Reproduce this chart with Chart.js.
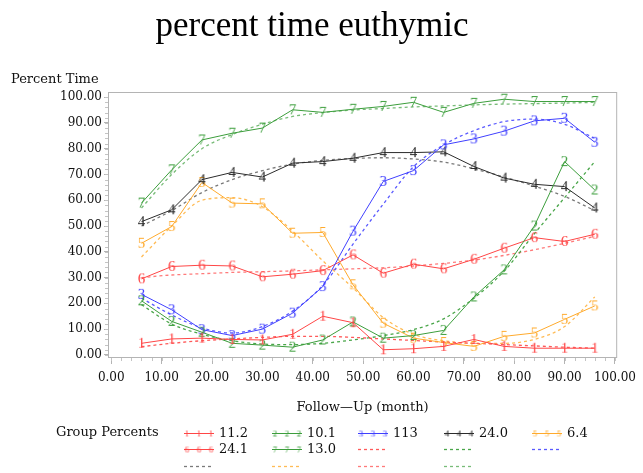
<!DOCTYPE html>
<html lang="en">
<head>
  <meta charset="UTF-8">
  <title>percent time euthymic</title>
  <style>
    body { margin: 0; background: #fff; }
    #wrap { width: 643px; height: 473px; }
  </style>
</head>
<body>
  <div id="wrap"><canvas id="chart" width="643" height="473"></canvas></div>

  <script src="https://cdn.jsdelivr.net/npm/chart.js"></script>
  <script>
    // follow-up visits (months) and axis ticks
    const months = [6, 12, 18, 24, 30, 36, 42, 48, 54, 60, 66, 72, 78, 84, 90, 96];
    const xTicks = [0, 10, 20, 30, 40, 50, 60, 70, 80, 90, 100];
    const yTicks = [0, 10, 20, 30, 40, 50, 60, 70, 80, 90, 100];

    // group percents and plot symbols
    const groupLabels = ['11.2', '10.1', '113', '24.0', '6.4', '24.1', '13.0'];
    const groupGlyphs = ['1', '2', '3', '4', '5', '6', '7'];

    // observed percent time per group
    const obs1 = [4.5, 6.2, 6.5, 6.0, 5.8, 8.0, 15.0, 12.5, 2.0, 2.4, 3.3, 6.0, 3.3, 2.6, 2.6, 2.6];
    const obs2 = [21.0, 13.0, 8.8, 4.5, 3.8, 3.0, 5.8, 12.8, 6.5, 7.5, 9.5, 22.5, 33.0, 50.0, 75.0, 64.0];
    const obs3 = [23.5, 17.5, 9.8, 7.5, 10.0, 16.2, 26.5, 48.0, 67.3, 71.5, 81.5, 83.8, 86.8, 90.8, 91.8, 82.5];
    const obs4 = [51.7, 56.3, 68.0, 70.8, 69.0, 74.4, 75.0, 76.3, 78.5, 78.5, 78.8, 73.1, 68.6, 66.2, 65.3, 57.0];
    const obs5 = [43.3, 49.8, 66.9, 58.9, 58.6, 47.2, 47.5, 27.2, 12.3, 6.5, 4.8, 3.3, 7.2, 8.5, 13.8, 19.0];
    const obs6 = [29.5, 34.3, 34.8, 34.5, 30.3, 31.3, 32.7, 38.8, 31.7, 35.2, 33.4, 37.1, 41.4, 45.5, 44.0, 46.8];
    const obs7 = [58.9, 71.8, 83.4, 86.0, 88.0, 95.1, 94.1, 95.3, 96.4, 98.0, 94.1, 97.6, 99.2, 98.3, 98.3, 98.3];

    // fitted trajectories per group
    const fit1 = [3.2, 4.5, 5.5, 6.2, 6.8, 7.2, 7.2, 6.8, 6.2, 5.6, 5.0, 4.5, 4.0, 3.5, 3.0, 2.6];
    const fit2 = [19.5, 12.0, 8.0, 5.5, 4.2, 4.0, 4.5, 5.8, 7.5, 9.8, 14.0, 22.0, 32.5, 47.0, 61.0, 75.0];
    const fit3 = [22.0, 15.5, 10.5, 8.5, 11.0, 17.0, 27.0, 43.0, 58.5, 73.0, 81.5, 87.0, 90.5, 91.5, 89.5, 84.0];
    const fit4 = [50.0, 56.0, 63.0, 68.0, 71.5, 74.0, 75.5, 76.2, 76.5, 76.0, 74.8, 72.2, 69.0, 65.5, 61.5, 56.0];
    const fit5 = [38.0, 50.0, 60.0, 61.0, 57.5, 48.0, 36.5, 26.0, 14.5, 8.0, 5.5, 4.5, 4.5, 6.0, 11.0, 22.5];
    const fit6 = [30.0, 31.0, 31.5, 32.0, 32.3, 32.6, 33.0, 33.4, 33.8, 34.5, 35.5, 36.8, 38.6, 40.8, 43.3, 46.0];
    const fit7 = [57.0, 70.0, 80.0, 85.5, 89.5, 92.5, 94.0, 95.0, 95.6, 96.2, 96.6, 97.0, 97.3, 97.5, 97.7, 98.0];

    const observed = [obs1, obs2, obs3, obs4, obs5, obs6, obs7];
    const fitted = [fit1, fit2, fit3, fit4, fit5, fit6, fit7];

    const lineColors = ['#ff4646', '#3c9e3c', '#4040ff', '#2c2c2c', '#ffaa2c', '#ff4646', '#3c9e3c'];
    const fitColors  = ['#ff5a5a', '#4aa64a', '#5a5aff', '#7a7a7a', '#ffbb55', '#ff7a7a', '#78bc78'];

    // digit symbol drawn on a small canvas so it can be used as a pointStyle
    function glyph(ch, color, size) {
      const c = document.createElement('canvas');
      c.width = Math.ceil(size * 0.7);
      c.height = Math.ceil(size * 0.95);
      const g = c.getContext('2d');
      g.font = size + 'px "Liberation Serif"';
      g.fillStyle = color;
      g.textAlign = 'center';
      g.textBaseline = 'middle';
      g.fillText(ch, c.width / 2, c.height / 2 + 1);
      return c;
    }

    const toPoints = arr => arr.map((v, i) => ({ x: months[i], y: v }));

    const datasets = [];
    observed.forEach((arr, i) => {
      datasets.push({
        label: groupLabels[i],
        data: toPoints(arr),
        borderColor: lineColors[i],
        borderWidth: 1,
        pointStyle: glyph(groupGlyphs[i], lineColors[i], 15),
        legendGlyph: glyph(groupGlyphs[i], lineColors[i], 9),
        pointRadius: 5,
        tension: 0
      });
    });
    fitted.forEach((arr, i) => {
      datasets.push({
        label: '',
        data: toPoints(arr),
        borderColor: fitColors[i],
        borderWidth: 1.3,
        borderDash: [3, 3],
        pointRadius: 0,
        cubicInterpolationMode: 'monotone'
      });
    });

    // frame, minor ticks, the vertical axis caption and the grouped legend
    const decor = {
      id: 'decor',
      beforeDatasetsDraw(chart) {
        const { ctx, chartArea: a } = chart;
        ctx.save();
        ctx.strokeStyle = '#b4b4b4';
        ctx.lineWidth = 1;
        ctx.strokeRect(a.left + 0.5, a.top + 0.5, a.right - a.left - 1, a.bottom - a.top - 1);
        ctx.restore();
      },
      afterDraw(chart) {
        const { ctx, chartArea: a, scales: { x, y } } = chart;
        ctx.save();
        ctx.strokeStyle = '#c4c4c4';
        ctx.lineWidth = 1;
        ctx.beginPath();
        for (let v = 0; v <= 100; v += 2) {
          const py = Math.round(y.getPixelForValue(v)) + 0.5;
          ctx.moveTo(a.left - 3, py);
          ctx.lineTo(a.left, py);
          const px = Math.round(x.getPixelForValue(v)) + 0.5;
          ctx.moveTo(px, a.bottom);
          ctx.lineTo(px, a.bottom + 3);
        }
        ctx.stroke();

        ctx.fillStyle = '#111';
        ctx.font = '13px "DejaVu Serif"';
        ctx.textBaseline = 'middle';
        ctx.textAlign = 'left';
        ctx.fillText('Percent Time', 11, a.top - 12);

        // legend: caption, then five entries per row
        ctx.fillText('Group Percents', 56, 433);
        const cols = [184, 272, 358, 444, 532];
        const rows = [433, 449, 466];
        chart.data.datasets.forEach((ds, i) => {
          const x0 = cols[i % 5];
          const y0 = rows[Math.floor(i / 5)];
          ctx.save();
          ctx.strokeStyle = ds.borderColor;
          ctx.lineWidth = ds.borderDash ? 1.3 : 1;
          ctx.setLineDash(ds.borderDash || []);
          ctx.beginPath();
          ctx.moveTo(x0, y0 + 0.5);
          ctx.lineTo(x0 + 30, y0 + 0.5);
          ctx.stroke();
          ctx.restore();
          if (ds.legendGlyph) {
            const gl = ds.legendGlyph;
            [x0 + 3, x0 + 15, x0 + 27].forEach(gx =>
              ctx.drawImage(gl, gx - gl.width / 2, y0 - gl.height / 2));
          }
          if (ds.label) {
            ctx.fillStyle = '#111';
            ctx.fillText(ds.label, x0 + 35, y0 + 1);
          }
        });
        ctx.restore();
      }
    };

    Chart.defaults.font.family = '"DejaVu Serif"';
    Chart.defaults.font.size = 12;
    Chart.defaults.color = '#111';

    new Chart(document.getElementById('chart'), {
      type: 'line',
      data: { datasets },
      options: {
        responsive: false,
        animation: false,
        events: [],
        layout: { padding: { left: 0, right: 19, top: 0, bottom: 58 } },
        plugins: {
          legend: { display: false },
          tooltip: { enabled: false },
          title: {
            display: true,
            text: 'percent time euthymic',
            color: '#000',
            font: { family: '"Liberation Serif"', size: 35, weight: 'normal' },
            padding: { top: 6, bottom: 44 }
          }
        },
        scales: {
          x: {
            type: 'linear',
            min: -0.65,
            max: 100.45,
            afterBuildTicks: s => { s.ticks = xTicks.map(v => ({ value: v })); },
            afterFit: s => { s.height = 57; },
            border: { display: false },
            grid: { drawOnChartArea: false, drawTicks: true, tickLength: 6, color: '#b4b4b4' },
            ticks: { padding: 7, color: '#111', maxRotation: 0, callback: v => Number(v).toFixed(2) },
            title: {
              display: true,
              text: 'Follow\u2014Up (month)',
              color: '#111',
              font: { size: 13 },
              padding: { top: 0, bottom: 0 }
            }
          },
          y: {
            min: -1.2,
            max: 102,
            afterBuildTicks: s => { s.ticks = yTicks.map(v => ({ value: v })); },
            afterFit: s => { s.width = 108; },
            border: { display: false },
            grid: { drawOnChartArea: false, drawTicks: true, tickLength: 4, color: '#b4b4b4' },
            ticks: { padding: 2, color: '#111', callback: v => Number(v).toFixed(2) }
          }
        }
      },
      plugins: [decor]
    });
  </script>
</body>
</html>
